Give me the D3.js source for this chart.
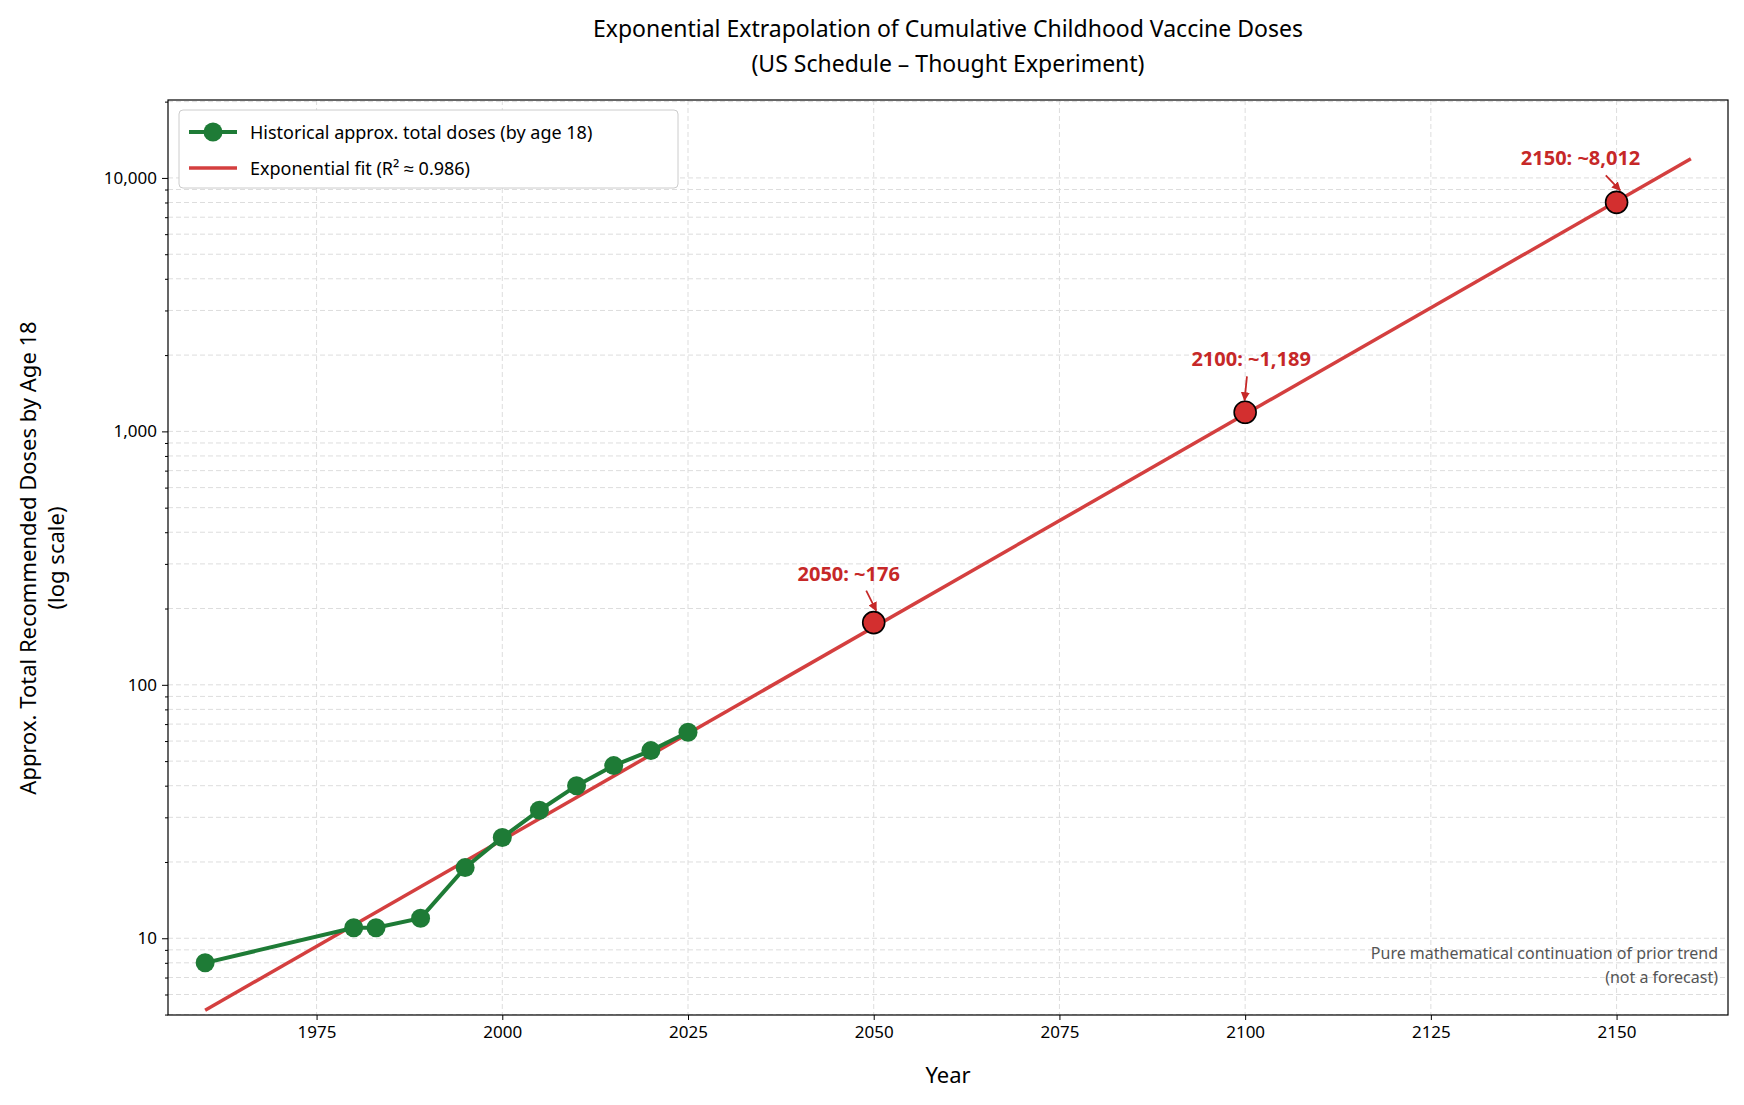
<!DOCTYPE html>
<html><head><meta charset="utf-8">
<script src="https://cdn.jsdelivr.net/npm/d3@7"></script>
<style>body{margin:0;background:#fff;font-family:"Noto Sans",sans-serif}</style>
</head><body><svg id="c" width="1744" height="1105"></svg>
<script>
const histYears=[1960,1980,1983,1989,1995,2000,2005,2010,2015,2020,2025];
const histDoses=[8,11,11,12,19,25,32,40,48,55,65];
const fitYears=[1960,2160];
const fitDoses=[5.2,11900];
const projYears=[2050,2100,2150];
const projDoses=[176,1189,8012];
const projLabels=["2050: ~176","2100: ~1,189","2150: ~8,012"];
const labelOffsets=[[-25,-42],[6,-46],[-36,-37]];
const xTicks=[1975,2000,2025,2050,2075,2100,2125,2150];
const yTicks=[10,100,1000,10000];

const svg=d3.select("#c");
const L=168,R=1728,T=100,B=1015;
const x=d3.scaleLinear().domain([1955,2165]).range([L,R]);
const y=d3.scaleLog().domain([4.98,20300]).range([B,T]);
svg.append("defs").append("clipPath").attr("id","cp").append("rect").attr("x",L).attr("y",T).attr("width",R-L).attr("height",B-T);
const g=svg.append("g");
const minor=[];for(let d=1;d<=10000;d*=10)for(let k=1;k<10;k++){const v=d*k;if(v>=5&&v<=20000)minor.push(v);}
g.selectAll(".gy").data(minor).enter().append("line").attr("x1",L).attr("x2",R).attr("y1",d=>y(d)).attr("y2",d=>y(d))
 .attr("stroke","#ddd").attr("stroke-dasharray","5,3").attr("stroke-width",1);
g.selectAll(".gx").data(xTicks).enter().append("line").attr("y1",T).attr("y2",B).attr("x1",d=>x(d)).attr("x2",d=>x(d))
 .attr("stroke","#ddd").attr("stroke-dasharray","5,3").attr("stroke-width",1);
svg.append("g").attr("transform",`translate(0,${B})`).call(d3.axisBottom(x).tickValues(xTicks).tickFormat(d3.format("d")).tickSize(5).tickPadding(6));
svg.append("g").attr("transform",`translate(${L},0)`).call(d3.axisLeft(y).tickValues(yTicks).tickFormat(d3.format(",")).tickSize(6).tickPadding(5));
svg.append("g").attr("transform",`translate(${L},0)`).call(d3.axisLeft(y).tickValues(minor.filter(v=>!yTicks.includes(v))).tickFormat("").tickSize(3));
svg.selectAll(".tick text").attr("font-size",17).attr("font-family","Noto Sans").attr("fill","#000");
svg.selectAll(".domain").remove();
svg.append("rect").attr("x",L).attr("y",T).attr("width",R-L).attr("height",B-T).attr("fill","none").attr("stroke","#000").attr("stroke-width",1.2);
const pts=fitYears.map((d,i)=>[d,fitDoses[i]]);
svg.append("path").attr("clip-path","url(#cp)").attr("d",d3.line().x(d=>x(d[0])).y(d=>y(d[1]))(pts)).attr("fill","none").attr("stroke","#d43f3f").attr("stroke-width",3.5);
const hp=histYears.map((d,i)=>[d,histDoses[i]]);
svg.append("path").attr("d",d3.line().x(d=>x(d[0])).y(d=>y(d[1]))(hp)).attr("fill","none").attr("stroke","#1e7b36").attr("stroke-width",4);
svg.selectAll(".hp").data(hp).enter().append("circle").attr("cx",d=>x(d[0])).attr("cy",d=>y(d[1])).attr("r",9.5).attr("fill","#1e7b36");
svg.append("defs").append("marker").attr("id","ah").attr("viewBox","0 0 10 10").attr("refX",9).attr("refY",5).attr("markerWidth",5).attr("markerHeight",5).attr("orient","auto")
 .append("path").attr("d","M0,0L10,5L0,10z").attr("fill","#c62828");
projYears.forEach((yr,i)=>{
 const px=x(yr),py=y(projDoses[i]);const [dx,dy]=labelOffsets[i];
 svg.append("line").attr("x1",px+dx*0.3).attr("y1",py+dy+10).attr("x2",px-dx*0.1).attr("y2",py-12).attr("stroke","#c62828").attr("stroke-width",1.8).attr("marker-end","url(#ah)");
 svg.append("circle").attr("cx",px).attr("cy",py).attr("r",11).attr("fill","#d32f2f").attr("stroke","#000").attr("stroke-width",1.6);
 svg.append("text").attr("x",px+dx).attr("y",py+dy).attr("text-anchor","middle").attr("font-size",20).attr("font-weight","bold").attr("fill","#c62828").text(projLabels[i]);
});
svg.append("text").attr("x",(L+R)/2).attr("y",37).attr("text-anchor","middle").attr("font-size",23).text("Exponential Extrapolation of Cumulative Childhood Vaccine Doses");
svg.append("text").attr("x",(L+R)/2).attr("y",72).attr("text-anchor","middle").attr("font-size",23).text("(US Schedule – Thought Experiment)");
svg.append("text").attr("x",(L+R)/2).attr("y",1083).attr("text-anchor","middle").attr("font-size",22).text("Year");
const yl=svg.append("text").attr("transform","translate(36,558) rotate(-90)").attr("text-anchor","middle").attr("font-size",22);
yl.append("tspan").attr("x",0).attr("dy",0).text("Approx. Total Recommended Doses by Age 18");
yl.append("tspan").attr("x",0).attr("dy",28).text("(log scale)");
svg.append("text").attr("x",R-10).attr("y",959).attr("text-anchor","end").attr("font-size",16).attr("fill","#555").text("Pure mathematical continuation of prior trend");
svg.append("text").attr("x",R-10).attr("y",983).attr("text-anchor","end").attr("font-size",16).attr("fill","#555").text("(not a forecast)");
const lg=svg.append("g");
lg.append("rect").attr("x",179).attr("y",110).attr("width",499).attr("height",78).attr("rx",4).attr("fill","#fff").attr("stroke","#ccc");
lg.append("line").attr("x1",189).attr("x2",237).attr("y1",132).attr("y2",132).attr("stroke","#1e7b36").attr("stroke-width",4);
lg.append("circle").attr("cx",213).attr("cy",132).attr("r",9.5).attr("fill","#1e7b36");
lg.append("text").attr("x",250).attr("y",139).attr("font-size",18).text("Historical approx. total doses (by age 18)");
lg.append("line").attr("x1",189).attr("x2",237).attr("y1",168).attr("y2",168).attr("stroke","#d43f3f").attr("stroke-width",3.5);
lg.append("text").attr("x",250).attr("y",175).attr("font-size",18).text("Exponential fit (R² ≈ 0.986)");
</script></body></html>
